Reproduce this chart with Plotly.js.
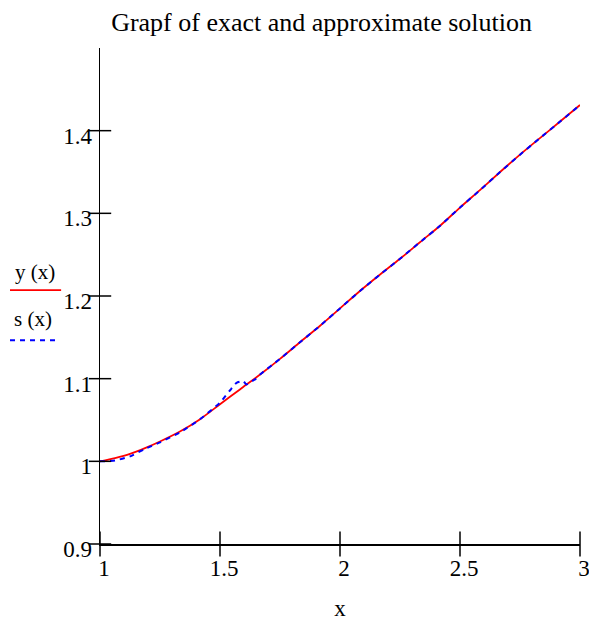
<!DOCTYPE html>
<html>
<head>
<meta charset="utf-8">
<script src="https://cdn.plot.ly/plotly-3.0.1.min.js"></script>
<style>html,body{margin:0;padding:0;background:#fff;}#chart{width:589px;height:623px;}</style>
</head>
<body>
<div id="chart"></div>
<script>
// exact solution y(x)
const xExact = [1, 1.0625, 1.125, 1.1875, 1.25, 1.333, 1.417, 1.5, 1.583, 1.667, 1.75, 1.833, 1.917, 2.0, 2.083, 2.167, 2.25, 2.333, 2.417, 2.5, 2.583, 2.667, 2.75, 2.833, 2.917, 3.0];
const yExact = [1.000, 1.004, 1.009, 1.016, 1.024, 1.036, 1.051, 1.069, 1.087, 1.105, 1.124, 1.144, 1.164, 1.185, 1.206, 1.226, 1.245, 1.265, 1.285, 1.307, 1.328, 1.350, 1.371, 1.391, 1.411, 1.431];
// approximate solution s(x)
const xApprox = [1, 1.0625, 1.125, 1.1875, 1.25, 1.333, 1.417, 1.5, 1.542, 1.569, 1.597, 1.61, 1.625, 1.65, 1.667, 1.75, 1.833, 1.917, 2.0, 2.083, 2.167, 2.25, 2.333, 2.417, 2.5, 2.583, 2.667, 2.75, 2.833, 2.917, 3.0];
const yApprox = [1.000, 1.001, 1.006, 1.015, 1.023, 1.035, 1.051, 1.071, 1.086, 1.095, 1.097, 1.093, 1.0955, 1.100, 1.105, 1.124, 1.144, 1.164, 1.185, 1.206, 1.226, 1.245, 1.265, 1.285, 1.307, 1.328, 1.350, 1.371, 1.391, 1.411, 1.431];
// ticks
const xTicks = [1, 1.5, 2, 2.5, 3];
const xTickText = ["1", "1.5", "2", "2.5", "3"];
const yTicks = [0.9, 1, 1.1, 1.2, 1.3, 1.4];
const yTickText = ["0.9", "1", "1.1", "1.2", "1.3", "1.4"];
const xRange = [1, 3];
const yRange = [0.9, 1.5];
const titleText = "Grapf of exact and approximate solution";
const legendLabels = ["y (x)", "s (x)"];

const FONT = "Liberation Serif, Times New Roman, serif";

const traces = [
  {x: xExact, y: yExact, type: "scatter", mode: "lines", name: legendLabels[0],
   line: {color: "#ff0000", width: 1.8, shape: "spline", smoothing: 0.8}},
  {x: xApprox, y: yApprox, type: "scatter", mode: "lines", name: legendLabels[1],
   line: {color: "#0000ff", width: 2, dash: "5px,5px", shape: "spline", smoothing: 0.5}},
  // crossing tick marks on the x axis (built from tick arrays)
  {x: xTicks, y: xTicks.map(() => yRange[0]), type: "scatter", mode: "markers", cliponaxis: false,
   hoverinfo: "skip", marker: {symbol: "line-ns-open", size: 18, color: "#000", line: {color: "#000", width: 1.5}}},
  // crossing tick marks on the y axis
  {x: yTicks.map(() => xRange[0]), y: yTicks, type: "scatter", mode: "markers", cliponaxis: false,
   hoverinfo: "skip", marker: {symbol: "line-ew-open", size: 16, color: "#000", line: {color: "#000", width: 1.5}}}
];

const axBase = {showgrid: false, zeroline: false, showline: true, linecolor: "#000", linewidth: 1.5,
  ticks: "", tickfont: {family: FONT, size: 23, color: "#000"}, fixedrange: true,
  ticklabeloverflow: "allow"};

const layout = {
  width: 589, height: 623,
  margin: {l: 100, r: 9, t: 48, b: 79, pad: 0},
  paper_bgcolor: "#fff", plot_bgcolor: "#fff",
  showlegend: false,
  title: {text: titleText, font: {family: FONT, size: 26, color: "#000"},
          x: 0.546, xanchor: "center", y: 0.965, yanchor: "middle"},
  xaxis: Object.assign({}, axBase, {range: xRange, tickvals: xTicks, ticktext: xTickText,
    ticklabelstandoff: 3, ticklabelshift: 4,
    title: {text: "x", font: {family: FONT, size: 23, color: "#000"}, standoff: 20}}),
  yaxis: Object.assign({}, axBase, {range: yRange, tickvals: yTicks, ticktext: yTickText,
    ticklabelstandoff: 2, ticklabelshift: 5}),
  annotations: [
    {text: legendLabels[0], xref: "paper", yref: "paper", x: -0.135, y: 0.548,
     xanchor: "center", yanchor: "middle", showarrow: false, font: {family: FONT, size: 21, color: "#000"}},
    {text: legendLabels[1], xref: "paper", yref: "paper", x: -0.14, y: 0.454,
     xanchor: "center", yanchor: "middle", showarrow: false, font: {family: FONT, size: 21, color: "#000"}}
  ],
  shapes: [
    {type: "line", xref: "paper", yref: "paper", x0: -0.1875, x1: -0.081, y0: 0.512, y1: 0.512,
     line: {color: "#ff0000", width: 1.8}},
    {type: "line", xref: "paper", yref: "paper", x0: -0.1875, x1: -0.085, y0: 0.411, y1: 0.411,
     line: {color: "#0000ff", width: 2, dash: "5px,5px"}}
  ]
};

Plotly.newPlot("chart", traces, layout, {displayModeBar: false, staticPlot: true});
</script>
</body>
</html>
